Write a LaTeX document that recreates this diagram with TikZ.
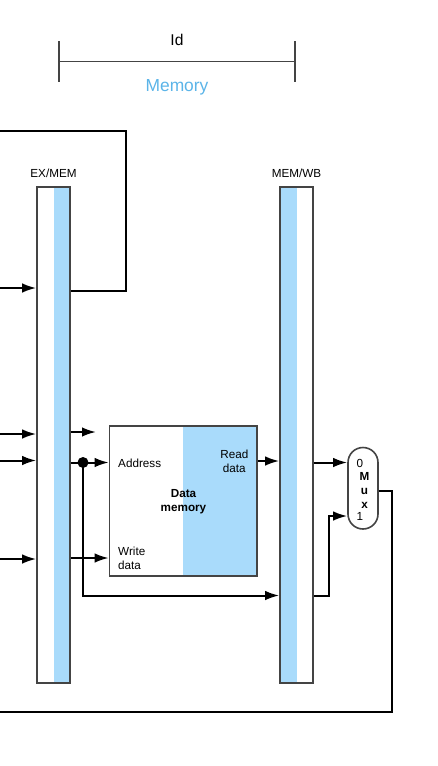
\documentclass[tikz,border=0pt]{standalone}
\usepackage{fontspec}
\setmainfont{Liberation Sans}
\usepackage{tikz}
\usetikzlibrary{positioning, arrows.meta}
\definecolor{regblue}{HTML}{A9DBFB}
\definecolor{stagetext}{HTML}{5BB4E8}
\definecolor{framegray}{HTML}{444444}

\begin{document}
\begin{tikzpicture}[
  x=1pt, y=-1pt,
  reg/.style={rectangle, draw=framegray, line width=1.6pt, minimum width=33pt, minimum height=496pt, inner sep=0pt},
  tag/.style={inner sep=0pt, align=center, font=\fontsize{11.7}{14}\selectfont},
  tagb/.style={tag, font=\fontsize{11.7}{14}\selectfont\bfseries},
  wire/.style={line width=2pt, draw=black},
  arrow/.style={wire, -{Latex[length=14pt,width=9.5pt]}}
]
\useasboundingbox (0,0) rectangle (438,766);

% stage bracket
\coordinate (bl) at (59,61.5);
\coordinate (br) at (295,61.5);
\coordinate (blt) at (59,41);
\coordinate (blb) at (59,82);
\coordinate (brt) at (295,41);
\coordinate (brb) at (295,82);
\draw[line width=1.6pt, draw=framegray] (bl) -- (br);
\draw[line width=1.6pt, draw=framegray] (blt) -- (blb);
\draw[line width=1.6pt, draw=framegray] (brt) -- (brb);
\node[tag, font=\fontsize{15.6}{18}\selectfont] (stage) at (177,40) {Id};
\node[tag, font=\fontsize{17.4}{20}\selectfont, text=stagetext] (memstage) at (177,87) {Memory};

% pipeline registers
\node[reg, path picture={\fill[regblue] (path picture bounding box.north) rectangle (path picture bounding box.south east);}] (exmem) at (53.5,435) {};
\node[reg, path picture={\fill[regblue] (path picture bounding box.north) rectangle (path picture bounding box.south west);}] (memwb) at (296.5,435) {};
\node[tag] (exmemtag) at (53.5,173.5) {EX/MEM};
\node[tag] (memwbtag) at (296.5,173.5) {MEM/WB};

% data memory
\node[rectangle, draw=framegray, line width=1.6pt, minimum width=147.5pt, minimum height=150pt, inner sep=0pt, path picture={\fill[regblue] (path picture bounding box.north) rectangle (path picture bounding box.south east);}] (dmem) at (183.25,501) {};
\node[tagb] (dmemtag) at (183.5,502) {Data\\memory};
\node[tag, anchor=west] (addr) at (118,463.5) {Address};
\node[tag, anchor=east] (rdata) at (248.5,461) {Read\\data};
\node[tag, anchor=west, align=left] (wdata) at (118,558) {Write\\data};

% mux
\node[rectangle, rounded corners=15pt, draw=framegray, fill=white, line width=1.6pt, minimum width=30pt, minimum height=81.5pt, inner sep=0pt] (mux) at (363,488.25) {};
\node[tagb] (muxm) at (364.5,476) {M};
\node[tagb] (muxu) at (364.5,491) {u};
\node[tagb] (muxx) at (364.5,505) {x};
\node[tag] (mux0) at (360,463) {0};
\node[tag] (mux1) at (360,516) {1};

% free ends on the left edge
\coordinate (ina) at (0,288);
\coordinate (inb) at (0,434);
\coordinate (inc) at (0,460.5);
\coordinate (ind) at (0,559);
\coordinate (backtop) at (0,131);
\coordinate (backbot) at (0,711.5);
\coordinate (stubend) at (96,432);
\coordinate (split) at (83,462.5);
\fill (split) circle (5.5pt);

\draw[arrow] (ina) -- (exmem.west |- ina);
\draw[arrow] (inb) -- (exmem.west |- inb);
\draw[arrow] (inc) -- (exmem.west |- inc);
\draw[arrow] (ind) -- (exmem.west |- ind);

\draw[wire] (exmem.east |- 0,291) -| (126,131) -- (backtop);
\draw[arrow] (exmem.east |- stubend) -- (stubend);
\draw[wire] (exmem.east |- split) -- (split);
\draw[arrow] (split) -- (dmem.west |- split);
\draw[arrow] (exmem.east |- 0,558) -- (dmem.west |- 0,558);
\draw[arrow] (split) |- (memwb.west |- 0,595.5);

\draw[arrow] (dmem.east |- 0,461) -- (memwb.west |- 0,461);
\draw[arrow] (memwb.east |- 0,462.5) -- (mux.west |- 0,462.5);
\draw[arrow] (memwb.east |- 0,596) -| (328.5,516) -- (mux.west |- 0,516);
\draw[wire] (mux.east |- 0,491) -| (392,711.5) -- (backbot);
\end{tikzpicture}
\end{document}
